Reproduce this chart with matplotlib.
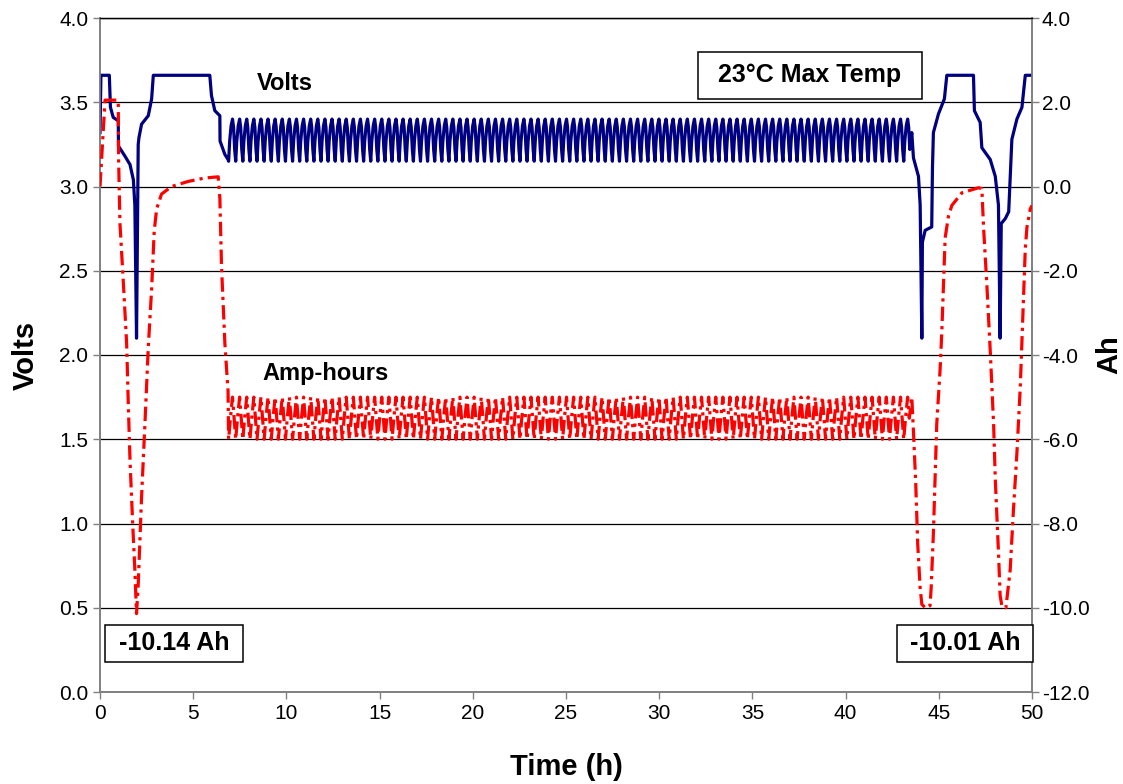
import numpy as np
import matplotlib
matplotlib.use("Agg")
import matplotlib.pyplot as plt
from matplotlib.patches import Rectangle

plt.rcParams['font.family'] = ['Liberation Sans', 'DejaVu Sans']

# ---- data ----
# Volts: initial discharge / charge segment
volt_start_t = [0.0, 0.05, 0.50, 0.56, 0.71, 0.98, 0.99, 1.34, 1.61, 1.79, 1.87, 1.96,
                2.05, 2.09, 2.23, 2.59, 2.77, 2.86, 5.89, 5.98, 6.16, 6.43, 6.44, 6.70, 6.87]
volt_start_v = [3.32, 3.66, 3.66, 3.47, 3.41, 3.39, 3.24, 3.18, 3.13, 3.04, 2.89, 2.10,
                3.25, 3.29, 3.37, 3.42, 3.52, 3.66, 3.66, 3.54, 3.45, 3.42, 3.27, 3.19, 3.16]
# Volts: final discharge / charge segments
volt_end_t = [43.55, 43.64, 43.91, 44.00, 44.09, 44.12, 44.27, 44.62, 44.66, 44.71, 44.98,
              45.30, 45.43, 46.86, 46.91, 47.22, 47.31, 47.76, 48.03, 48.20, 48.29, 48.35,
              48.57, 48.75, 48.92, 49.19, 49.46, 49.64, 50.0]
volt_end_v = [3.32, 3.17, 3.06, 2.89, 2.10, 2.67, 2.74, 2.76, 3.11, 3.32, 3.43,
              3.52, 3.66, 3.66, 3.45, 3.38, 3.23, 3.16, 3.06, 2.89, 2.10, 2.78,
              2.81, 2.85, 3.28, 3.40, 3.47, 3.66, 3.66]
# Amp-hours: initial segment
ah_start_t = [0.0, 0.27, 0.95, 0.98, 1.00, 1.07, 1.25, 1.43, 1.52, 1.61, 1.75, 1.87, 1.96,
              2.05, 2.23, 2.41, 2.59, 2.77, 2.91, 3.04, 3.30, 3.84, 4.73, 5.60, 6.34,
              6.43, 6.52, 6.70, 6.87]
ah_start_v = [0.0, 2.05, 2.05, 2.0, 0.6, -0.87, -2.26, -3.73, -5.2, -6.5, -7.97, -9.1, -10.14,
              -9.45, -7.37, -5.64, -3.82, -2.43, -1.05, -0.53, -0.18, 0.0, 0.12, 0.2, 0.23,
              -0.27, -1.9, -3.73, -4.86]
# Amp-hours: final segments
ah_end_t = [43.55, 43.64, 43.76, 43.87, 44.00, 44.09, 44.30, 44.53, 44.59, 44.71, 44.80,
            44.89, 45.07, 45.16, 45.25, 45.34, 45.52, 45.70, 46.24, 47.13, 47.31, 47.40,
            47.58, 47.76, 47.94, 48.03, 48.20, 48.29, 48.39, 48.60, 48.83, 49.00, 49.19,
            49.37, 49.50, 49.64, 49.73, 49.91, 50.0]
ah_end_v = [-5.0, -5.81, -7.02, -8.5, -9.53, -9.92, -10.01, -9.95, -9.53, -8.23, -6.94,
            -5.64, -4.34, -3.47, -2.35, -1.22, -0.70, -0.45, -0.15, -0.03, -0.05, -0.96,
            -2.35, -3.9, -5.64, -6.94, -8.67, -9.71, -9.97, -10.0, -9.1, -7.71, -6.33,
            -4.77, -3.21, -1.48, -0.96, -0.53, -0.45]
# Repeated micro-cycles between the two deep cycles (one cycle shape)
cycling_start_h = 6.9
cycling_end_h = 43.5
n_cycles = 96
volt_cycle_phase = [0.0, 0.15, 0.35, 0.55, 0.70, 0.85]
volt_cycle_v = [3.15, 3.27, 3.36, 3.40, 3.35, 3.22]
ah_cycle_phase = [0.0, 0.28, 0.55, 0.78]
ah_cycle_v = [-6.0, -5.45, -5.0, -5.5]

x_ticks = np.arange(0, 51, 5)
volt_ticks = np.arange(0, 4.01, 0.5)
ah_ticks = np.arange(-12, 4.01, 2)

# ---- assemble series ----
period = (cycling_end_h - cycling_start_h) / n_cycles
k = np.arange(n_cycles)[:, None]
vc_t = (cycling_start_h + (k + np.array(volt_cycle_phase)[None, :]) * period).ravel()
vc_v = np.tile(volt_cycle_v, n_cycles)
ac_t = (cycling_start_h + (k + np.array(ah_cycle_phase)[None, :]) * period).ravel()
ac_v = np.tile(ah_cycle_v, n_cycles)

volt_t = np.concatenate([volt_start_t, vc_t, volt_end_t])
volt_v = np.concatenate([volt_start_v, vc_v, volt_end_v])
ah_t = np.concatenate([ah_start_t, ac_t, ah_end_t])
ah_v = np.concatenate([ah_start_v, ac_v, ah_end_v])

# ---- figure ----
fig = plt.figure(figsize=(11.23, 7.84), dpi=100)
ax = fig.add_axes([100 / 1123, 92 / 784, 932 / 1123, 674 / 784])
ax2 = ax.twinx()

ax.set_xlim(0, 50)
ax.set_ylim(0, 4.0)
ax2.set_ylim(-12, 4.0)

ax.yaxis.grid(True, color='black', lw=0.9)
ax.set_axisbelow(True)

ax.plot(volt_t, volt_v, color='#000080', lw=2.3, solid_joinstyle='round', zorder=3)
ax2.plot(ah_t, ah_v, color='#FF0000', lw=2.3, linestyle=(0, (4.5, 1.6, 1.0, 1.6)), zorder=3)

ax.set_xticks(x_ticks)
ax.set_xticklabels([f"{int(v)}" for v in x_ticks])
ax.set_yticks(volt_ticks)
ax.set_yticklabels([f"{v:.1f}" for v in volt_ticks])
ax2.set_yticks(ah_ticks)
ax2.set_yticklabels([f"{v:.1f}" for v in ah_ticks])

for a in (ax, ax2):
    a.tick_params(labelsize=15, direction='out', length=5, width=1, color='#808080')
    for s in ('left', 'right', 'bottom'):
        a.spines[s].set_color('#808080')
        a.spines[s].set_linewidth(1.2)
    a.spines['top'].set_color('black')
    a.spines['top'].set_linewidth(0.9)
ax2.tick_params(axis='y', pad=2)

ax.set_xlabel("Time (h)", fontsize=21, fontweight='bold', labelpad=22)
ax.set_ylabel("Volts", fontsize=21, fontweight='bold', labelpad=14)
ax2.set_ylabel("Ah", fontsize=21, fontweight='bold', labelpad=4)

# text boxes: (label, centre time, centre volts, half width h, half height V)
boxes = [("23°C Max Temp", 38.09, 3.659, 6.01, 0.139),
         ("-10.14 Ah", 3.97, 0.288, 3.70, 0.110),
         ("-10.01 Ah", 46.41, 0.288, 3.65, 0.110)]
for label, cx, cy, hw, hh in boxes:
    ax2.add_patch(Rectangle((cx - hw, cy - hh), 2 * hw, 2 * hh, transform=ax.transData,
                            facecolor='white', edgecolor='black', lw=1.1, zorder=5,
                            clip_on=False))
    ax2.text(cx, cy, label, transform=ax.transData, fontsize=18, fontweight='bold',
             ha='center', va='center', zorder=6)

ax2.text(9.9, 3.61, "Volts", transform=ax.transData, fontsize=17,
         fontweight='bold', ha='center', va='center', zorder=5)
ax2.text(12.1, 1.89, "Amp-hours", transform=ax.transData, fontsize=17,
         fontweight='bold', ha='center', va='center', zorder=5)

fig.savefig("out.png", dpi=100)
